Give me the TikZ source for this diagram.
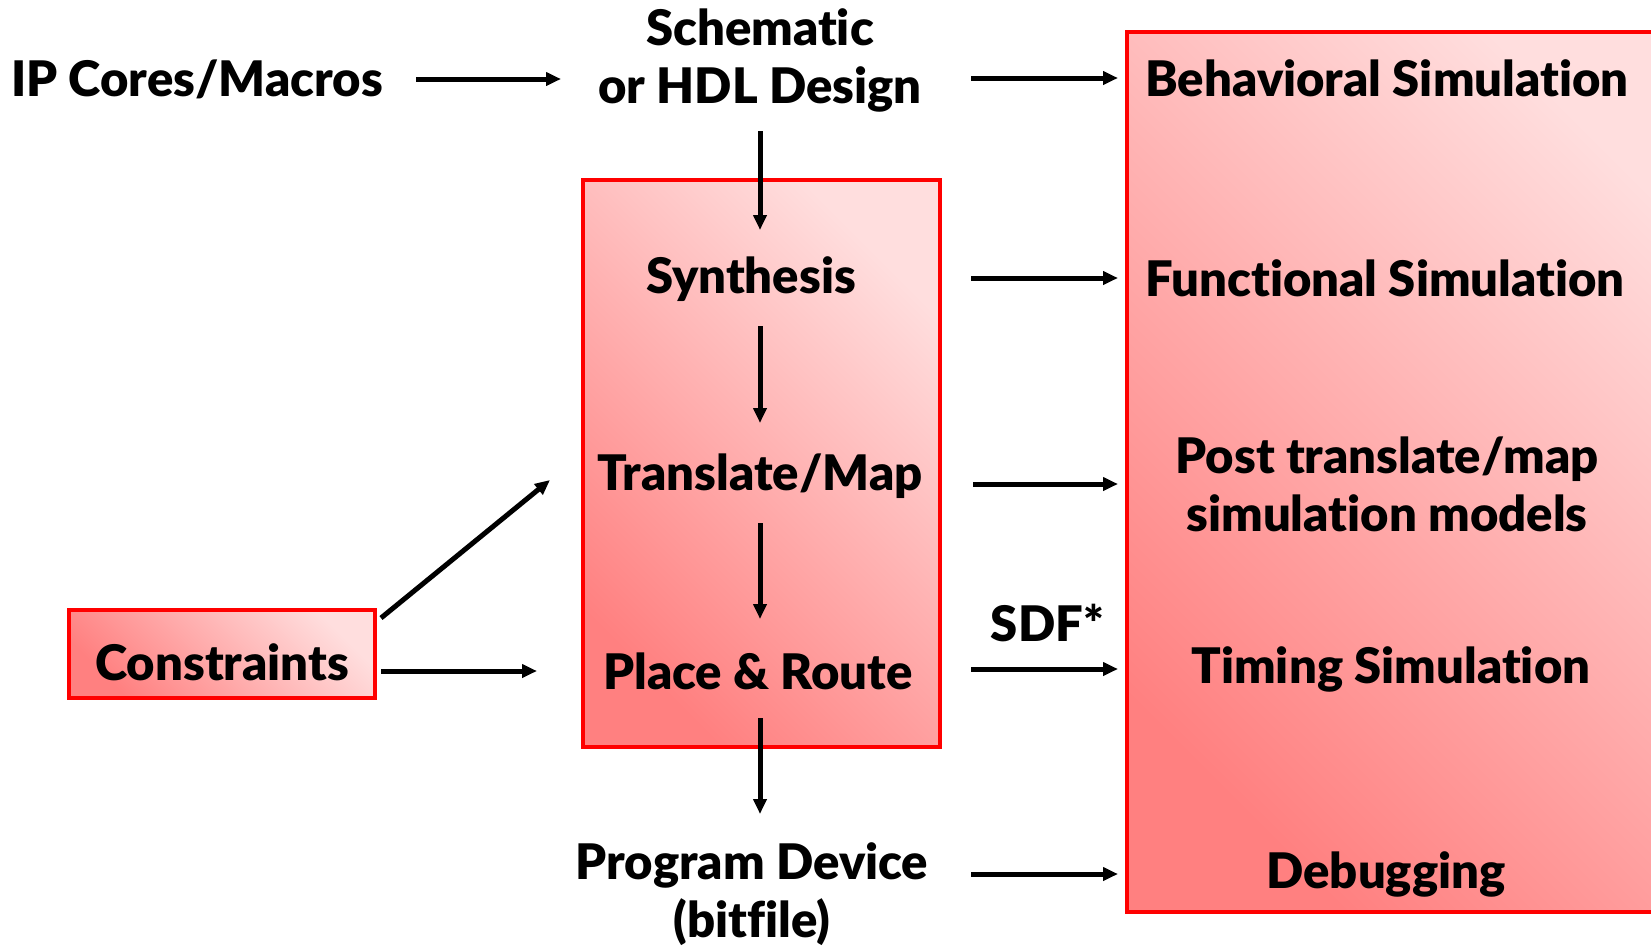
\documentclass[tikz,border=0pt]{standalone}
\usepackage{fontspec}
\setmainfont{Lato}[Ligatures=NoCommon, BoldFont={Lato Black}]
\usetikzlibrary{arrows.meta,positioning}
\definecolor{boxdark}{RGB}{255,128,128}
\definecolor{boxlight}{RGB}{255,222,222}
\tikzset{
  lbl/.style={align=center, font=\fontsize{24.5}{29}\selectfont\bfseries, inner sep=0pt},
  stage/.style={rectangle, draw=red, line width=2pt, bottom color=boxdark,
    top color=boxlight, shading angle=-45},
  flow/.style={-{Triangle[length=7.5pt,width=6.5pt]}, line width=2.5pt},
}
\begin{document}
\begin{tikzpicture}[x=0.5pt, y=-0.5pt]
  \fill[white] (0,0) rectangle (1651,948);
  \useasboundingbox (0,0) rectangle (1651,948);
  % boxes
  \node[stage, minimum width=178.5pt, minimum height=283.5pt] (mid) at (761.5,463.5) {};
  \node[stage, minimum width=290pt, minimum height=440pt] (sim) at (1417,472) {};
  \node[stage, lbl, minimum width=153pt, minimum height=44pt, text height=26pt, text depth=0pt] (cons) at (222,654) {Constraints};
  % flow steps
  \node[lbl] (ip) at (197,79) {IP Cores/Macros};
  \node[lbl] (schem) at (760,60) {Schematic\\or HDL Design};
  \node[lbl] (synth) at (751,279) {Synthesis};
  \node[lbl] (trans) at (760,476) {Translate/Map};
  \node[lbl] (place) at (758,671) {Place \& Route};
  \node[lbl] (prog) at (752,894) {Program Device\\(bitfile)};
  % simulation steps
  \node[lbl] (behav) at (1387,78) {Behavioral Simulation};
  \node[lbl] (func) at (1385,278) {Functional Simulation};
  \node[lbl] (post) at (1387,484) {Post translate/map\\simulation models};
  \node[lbl] (timing) at (1391,669) {Timing Simulation};
  \node[lbl] (debug) at (1386,874) {Debugging};
  \coordinate (tin) at (550,480);
  % arrows
  \draw[flow, shorten <=109.5pt, shorten >=99.5pt] (ip.center) -- (ip.center -| schem.center);
  \draw[flow, shorten <=35.5pt, shorten >=24.5pt] (schem.center -| trans.center) -- (synth.center -| trans.center);
  \draw[flow, shorten <=23.5pt, shorten >=26.5pt] (synth.center -| trans.center) -- (trans.center);
  \draw[flow, shorten <=23.5pt, shorten >=26pt] (trans.center) -- (place.center -| trans.center);
  \draw[flow, shorten <=23.5pt, shorten >=40pt] (place.center -| trans.center) -- (prog.center -| trans.center);
  \draw[flow, shorten <=14.5pt, shorten >=3.5pt] (behav.center -| mid.east) -- (behav.center -| sim.west);
  \draw[flow, shorten <=14.5pt, shorten >=3.5pt] (func.center -| mid.east) -- (func.center -| sim.west);
  \draw[flow, shorten <=15.5pt, shorten >=3.5pt] (post.center -| mid.east) -- (post.center -| sim.west);
  \draw[flow, shorten <=14.5pt, shorten >=3.5pt] (timing.center -| mid.east) -- (timing.center -| sim.west)
    node[lbl, midway, xshift=7pt, yshift=23pt] (sdf) {SDF*};
  \draw[flow, shorten <=14.5pt, shorten >=3.5pt] (debug.center -| mid.east) -- (debug.center -| sim.west);
  \draw[flow] ([xshift=2pt, yshift=-5pt]cons.north east) -- (tin);
  \draw[flow, shorten <=2pt, shorten >=110.5pt] (cons.east |- place.center) -- (place.center);
\end{tikzpicture}
\end{document}
